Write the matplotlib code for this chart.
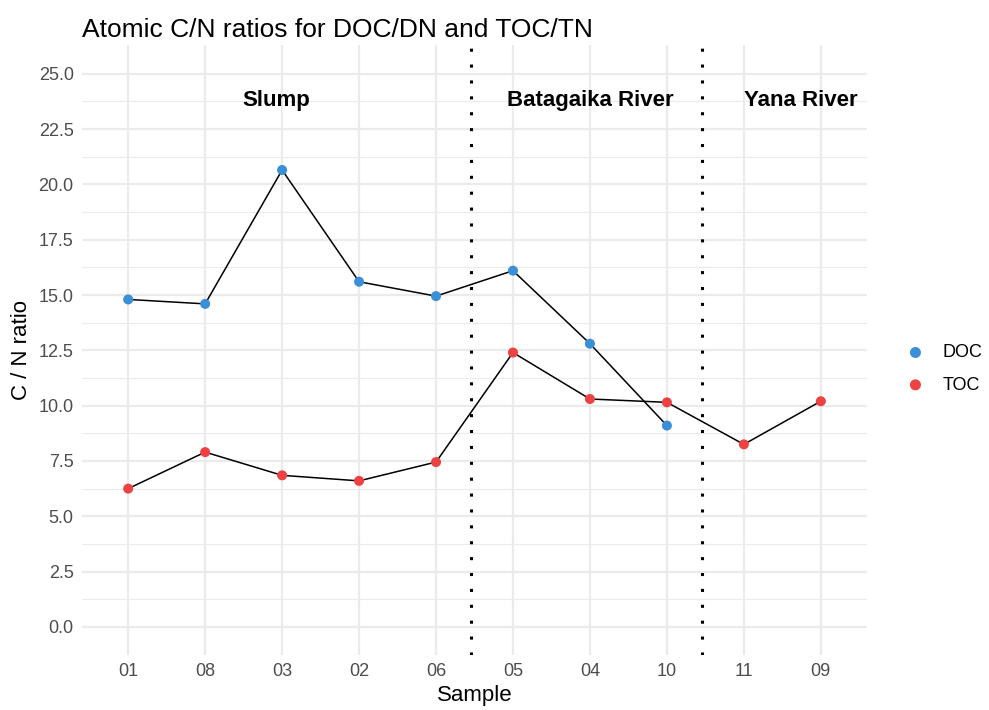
import matplotlib.pyplot as plt
import numpy as np

plt.rcParams['font.family'] = ['Liberation Sans', 'DejaVu Sans']

samples = ['01', '08', '03', '02', '06', '05', '04', '10', '11', '09']
doc = [14.8, 14.6, 20.65, 15.6, 14.95, 16.1, 12.8, 9.1]
toc = [6.25, 7.9, 6.85, 6.6, 7.45, 12.4, 10.3, 10.15, 8.25, 10.2]
regions = ['Slump', 'Batagaika River', 'Yana River']
region_x = [1.92, 6, 8.74]
region_y = 23.8
breaks = [4.45, 7.45]

doc_col = '#3a8fd6'
toc_col = '#ee4142'

fig = plt.figure(figsize=(9.89, 7.10), dpi=100)
ax = fig.add_axes([82 / 989, 55 / 710, 785 / 989, 610 / 710])

x = np.arange(len(samples))
ax.plot(x[:len(doc)], doc, color='black', lw=1.1, zorder=3)
ax.plot(x, toc, color='black', lw=1.1, zorder=3)
ax.scatter(x[:len(doc)], doc, s=52, color=doc_col, zorder=4, label='DOC', edgecolors='none')
ax.scatter(x, toc, s=52, color=toc_col, zorder=4, label='TOC', edgecolors='none')

for b in breaks:
    ax.axvline(b, color='black', lw=2.2, linestyle=(0, (1, 4.2)), zorder=2)

for name, rx in zip(regions, region_x):
    ax.text(rx, region_y, name, ha='center', va='center', fontsize=16, fontweight='bold')

ax.set_xlim(-0.6, len(samples) - 0.4)
ax.set_ylim(-1.27, 26.3)
ax.set_xticks(x)
ax.set_xticklabels(samples)
yt = np.arange(0, 25.1, 2.5)
ax.set_yticks(yt)
ax.set_yticklabels([f'{v:.1f}' for v in yt])
ax.set_yticks(np.arange(1.25, 26, 2.5), minor=True)

ax.grid(True, which='major', color='#ebebeb', lw=1.6)
ax.grid(True, which='minor', axis='y', color='#ebebeb', lw=0.8)
ax.set_axisbelow(True)
for s in ax.spines.values():
    s.set_visible(False)
ax.tick_params(which='both', length=0, labelsize=13, labelcolor='#4d4d4d', pad=6)

ax.set_xlabel('Sample', fontsize=16, labelpad=3)
ax.set_ylabel('C / N ratio', fontsize=16, labelpad=5)
ax.set_title('Atomic C/N ratios for DOC/DN and TOC/TN', fontsize=19, loc='left', pad=6)

leg = ax.legend(loc='center left', bbox_to_anchor=(1.018, 0.469), frameon=False,
                fontsize=13, handletextpad=0.5, labelspacing=0.85, markerscale=1.1)

fig.savefig('out.png', dpi=100)
